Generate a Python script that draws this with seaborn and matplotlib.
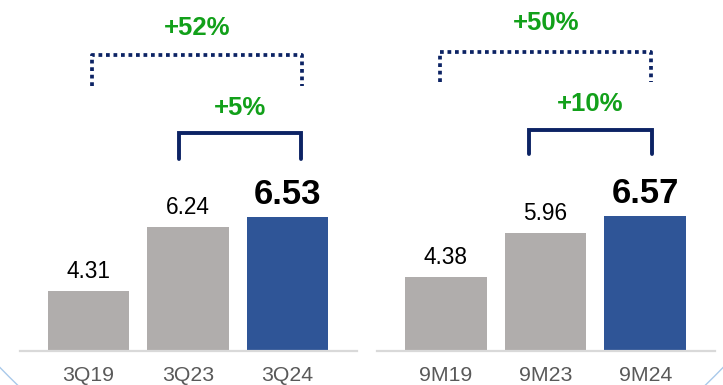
import matplotlib
matplotlib.use("Agg")
import matplotlib.pyplot as plt
import matplotlib.transforms as mtransforms
from matplotlib.patches import Ellipse
import pandas as pd
import seaborn as sns

# Net income per share, quarter and year-to-date
quarter_periods = ["3Q19", "3Q23", "3Q24"]
quarter_values = [4.31, 6.24, 6.53]
quarter_growth = ["+52%", "+5%"]

ytd_periods = ["9M19", "9M23", "9M24"]
ytd_values = [4.38, 5.96, 6.57]
ytd_growth = ["+50%", "+10%"]

sns.set_theme(style="white")
plt.rcParams["font.family"] = ["Liberation Sans", "DejaVu Sans"]

GRAY = "#B0ADAC"
BLUE = "#2F5597"
NAVY = "#0C2364"
GREEN = "#12A01A"
AXIS = "#D9D9D9"
TICK = "#595959"

W, H = 723, 385
fig = plt.figure(figsize=(W / 100, H / 100), dpi=100)
fig.patch.set_facecolor("white")


def px_axes(x0, x1, ytop, ybot):
    return fig.add_axes([x0 / W, 1 - ybot / H, (x1 - x0) / W, (ybot - ytop) / H])


def bracket(ax, x0, x1, y_top, y_bot, style, lw, label, label_y):
    trans = mtransforms.blended_transform_factory(ax.transData, ax.transAxes)
    ax.plot([x0, x0, x1, x1], [y_bot, y_top, y_top, y_bot], color=NAVY,
            lw=lw, linestyle=style, solid_joinstyle="miter",
            dash_capstyle="butt", transform=trans, clip_on=False)
    ax.text((x0 + x1) / 2, label_y, label, transform=trans, ha="center",
            va="baseline", color=GREEN, fontsize=18.5, fontweight="bold")


def draw_panel(ax, periods, values, growth, ylim, long_x, short_x, ys):
    df = pd.DataFrame({"period": periods, "value": values})
    sns.barplot(data=df, x="period", y="value", hue="period",
                palette=[GRAY, GRAY, BLUE], saturation=1, width=0.82,
                legend=False, linewidth=0, ax=ax)
    ax.set_ylim(*ylim)
    ax.set_xlim(-0.69, 2.70)
    ax.set_xlabel("")
    ax.set_ylabel("")
    ax.set_yticks([])
    ax.set_facecolor("none")
    for side in ("top", "left", "right"):
        ax.spines[side].set_visible(False)
    ax.spines["bottom"].set_color(AXIS)
    ax.spines["bottom"].set_linewidth(1.6)
    ax.tick_params(axis="x", length=0, pad=11, labelsize=15.3, labelcolor=TICK)

    for i, v in enumerate(values):
        last = i == len(values) - 1
        ax.annotate(f"{v:.2f}", (i, v), xytext=(0, 13), textcoords="offset pixels",
                    ha="center", va="baseline", color="black",
                    fontsize=25 if last else 16.3,
                    fontweight="bold" if last else "normal")

    bracket(ax, long_x[0], long_x[1], ys[0], ys[1], (0, (1.0, 1.0)), 2.7,
            growth[0], ys[2])
    bracket(ax, short_x[0], short_x[1], ys[3], ys[4], "-", 2.8,
            growth[1], ys[5])


ax_l = px_axes(20, 357, 0, 351)
ax_r = px_axes(377, 715, 0, 351)

draw_panel(ax_l, quarter_periods, quarter_values, quarter_growth,
           (2.53, 13.0), (0.03, 2.15), (0.91, 2.14),
           (0.843, 0.755, 0.900, 0.621, 0.547, 0.672))
draw_panel(ax_r, ytd_periods, ytd_values, ytd_growth,
           (1.73, 14.27), (-0.055, 2.06), (0.83, 2.07),
           (0.852, 0.766, 0.915, 0.630, 0.561, 0.684))

# Large decorative ring behind the panels, visible at the lower corners
ring = Ellipse((361.5 / W, 1 - 23.5 / H), 2 * 499 / W, 2 * 499 / H,
               transform=fig.transFigure, fill=False, edgecolor="#A9C9EA",
               lw=1.0, zorder=0)
fig.add_artist(ring)

fig.savefig("out.png", dpi=100, facecolor="white")
